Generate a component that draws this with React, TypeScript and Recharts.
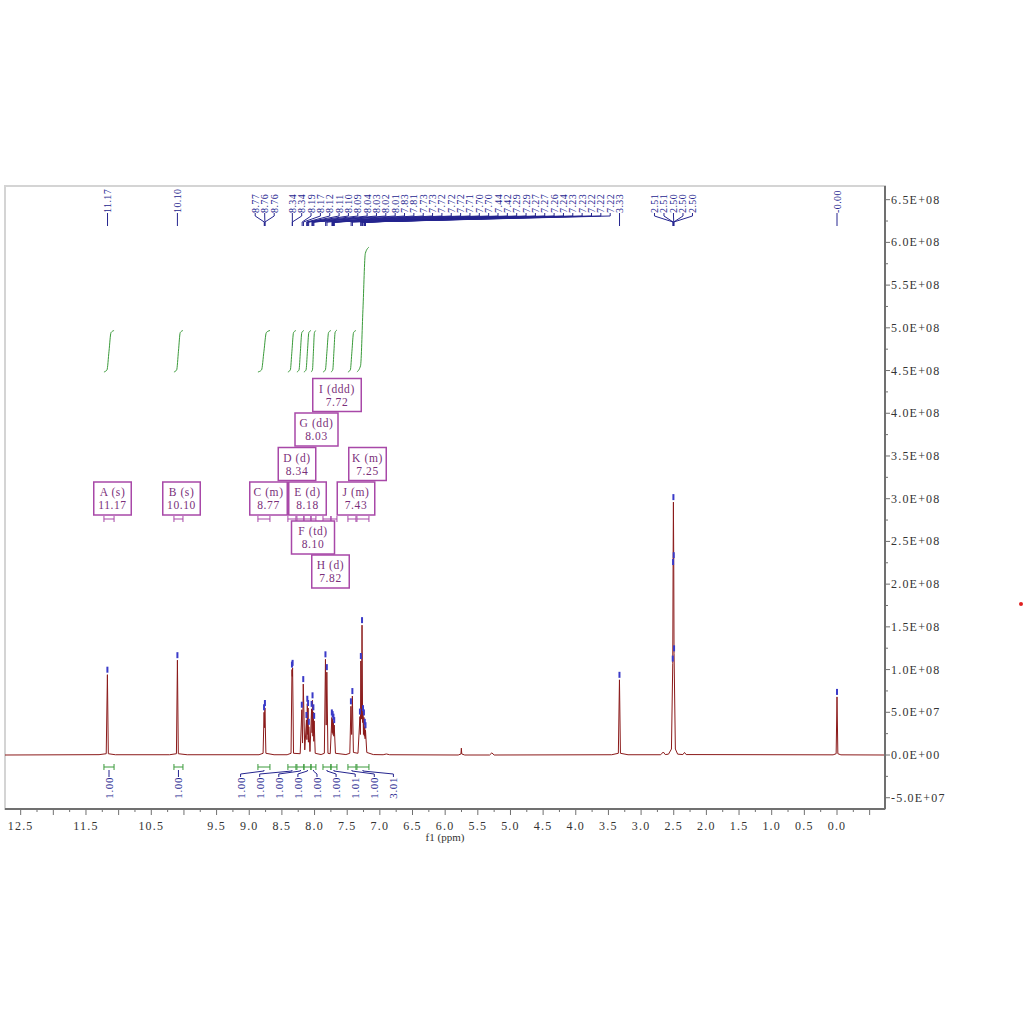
import React from 'react';
import { ComposedChart, Line, Scatter, XAxis, YAxis, ReferenceArea } from 'recharts';

// 1H trace, [ppm, intensity] (high ppm first)
const spectrum: [number, number][] = [
  [12.74, 0], [11.3, 0.4e6], [11.19, 1.5e6], [11.172, 9.4e7], [11.158, 1.5e6], [11.05, 0.3e6],
  [10.22, 0.3e6], [10.115, 1.5e6], [10.1, 1.11e8], [10.086, 1.5e6], [9.95, 0.3e6],
  [8.85, 0.3e6], [8.788, 2e6], [8.773, 5.0e7], [8.766, 3.2e7], [8.76, 5.5e7], [8.745, 2e6], [8.62, 0.3e6],
  [8.42, 0.3e6], [8.36, 2e6], [8.346, 1.0e8], [8.341, 9.2e7], [8.336, 1.02e8], [8.322, 2e6],
  [8.22, 1.5e6], [8.195, 5.3e7], [8.184, 1.4e7], [8.173, 8.3e7], [8.15, 6e6],
  [8.124, 4.1e7], [8.117, 1.8e7], [8.111, 6.0e7], [8.105, 2.4e7], [8.099, 5.5e7], [8.094, 1.5e7], [8.088, 3.3e7], [8.07, 4e6],
  [8.045, 5.4e7], [8.038, 2.6e7], [8.031, 6.4e7], [8.025, 2.2e7], [8.018, 5.0e7], [8.012, 1.6e7], [8.006, 4.0e7], [7.99, 2e6],
  [7.9, 0.5e6], [7.85, 2e6], [7.833, 1.12e8], [7.822, 3.5e7], [7.812, 9.7e7], [7.795, 2e6],
  [7.76, 1.5e6], [7.735, 4.4e7], [7.729, 2.6e7], [7.723, 4.2e7], [7.717, 2.4e7], [7.711, 3.9e7], [7.705, 2.2e7], [7.699, 3.5e7], [7.68, 2e6],
  [7.52, 0.5e6], [7.46, 2e6], [7.443, 5.7e7], [7.432, 2.4e7], [7.421, 6.9e7], [7.405, 3e6],
  [7.335, 2e6], [7.305, 4.5e7], [7.298, 2.4e7], [7.291, 1.1e8], [7.281, 4.2e7], [7.273, 1.52e8], [7.264, 3.8e7],
  [7.258, 4.9e7], [7.251, 2.4e7], [7.244, 4.4e7], [7.237, 2.2e7], [7.231, 3.3e7], [7.226, 1.9e7], [7.22, 2.9e7], [7.2, 3e6], [7.1, 0.5e6],
  [6.95, 0.3e6], [6.9, 1.2e6], [6.85, 0.3e6],
  [5.8, 0], [5.758, 1.2e6], [5.752, 8e6], [5.746, 1.2e6], [5.7, 0],
  [5.32, 0], [5.285, 2.5e6], [5.25, 0],
  [3.45, 0.3e6], [3.348, 2e6], [3.331, 8.8e7], [3.316, 2e6], [3.2, 0.3e6],
  [2.7, 0.3e6], [2.66, 3.5e6], [2.63, 0.5e6],
  [2.58, 1e6], [2.535, 7e6], [2.515, 1.07e8], [2.51, 2.2e8], [2.505, 2.96e8], [2.5, 2.28e8], [2.495, 1.19e8], [2.475, 7e6], [2.44, 1e6],
  [2.36, 0.5e6], [2.335, 3e6], [2.31, 0.5e6],
  [0.06, 0.2e6], [0.013, 1.5e6], [0.0, 6.8e7], [-0.013, 1.5e6], [-0.06, 0.2e6], [-0.735, 0],
];

// picked peak tops (blue marks)
const picks: [number, number][] = [
  [11.172, 9.4e7], [10.1, 1.11e8], [8.773, 5.0e7], [8.76, 5.5e7],
  [8.346, 1.0e8], [8.336, 1.02e8], [8.195, 5.3e7], [8.173, 8.3e7],
  [8.124, 4.1e7], [8.111, 6.0e7], [8.099, 5.5e7], [8.088, 3.3e7],
  [8.045, 5.4e7], [8.031, 6.4e7], [8.018, 5.0e7], [8.006, 4.0e7],
  [7.833, 1.12e8], [7.812, 9.7e7],
  [7.735, 4.4e7], [7.723, 4.2e7], [7.711, 3.9e7], [7.699, 3.5e7],
  [7.443, 5.7e7], [7.421, 6.9e7],
  [7.305, 4.5e7], [7.291, 1.1e8], [7.273, 1.52e8], [7.258, 4.9e7], [7.244, 4.4e7], [7.231, 3.3e7], [7.22, 2.9e7],
  [3.331, 8.8e7],
  [2.515, 1.07e8], [2.51, 2.2e8], [2.505, 2.96e8], [2.5, 2.28e8], [2.495, 1.19e8],
  [0, 6.8e7],
];

const clusterShifts = [
  '8.34', '8.34', '8.19', '8.17', '8.12', '8.11', '8.10', '8.09', '8.04', '8.03', '8.02', '8.01',
  '7.83', '7.81', '7.73', '7.73', '7.72', '7.72', '7.72', '7.71', '7.70', '7.70', '7.44', '7.42',
  '7.29', '7.29', '7.27', '7.27', '7.26', '7.24', '7.23', '7.23', '7.22', '7.22', '7.22', '3.33',
];
const shiftGroups: string[][] = [
  ['11.17'], ['10.10'], ['8.77', '8.76', '8.76'], clusterShifts, ['2.51', '2.51', '2.50', '2.50', '2.50'], ['-0.00'],
];

const multipletIds = ['A', 'B', 'C', 'D', 'E', 'F', 'G', 'H', 'I', 'J', 'K'];
const multipletTypes = ['s', 's', 'm', 'd', 'd', 'td', 'dd', 'd', 'ddd', 'm', 'm'];
const multipletShifts = [11.17, 10.1, 8.77, 8.34, 8.18, 8.1, 8.03, 7.82, 7.72, 7.43, 7.25];
const rangeFrom = [11.225, 10.153, 8.867, 8.408, 8.27, 8.163, 8.055, 7.871, 7.749, 7.489, 7.351];
const rangeTo = [11.07, 10.015, 8.683, 8.285, 8.163, 8.055, 7.979, 7.749, 7.657, 7.366, 7.167];
const integrals = [1.0, 1.0, 1.0, 1.0, 1.0, 1.0, 1.0, 1.0, 1.01, 1.0, 3.01];
const integralGroups = [[0], [1], [2, 3, 4, 5, 6, 7, 8, 9, 10]];

const xLabels = [12.5, 11.5, 10.5, 9.5, 9, 8.5, 8, 7.5, 7, 6.5, 6, 5.5, 5, 4.5, 4, 3.5, 3, 2.5, 2, 1.5, 1, 0.5, 0];

// ---- layout
const W = 1024;
const H = 1024;
const PLOT = { left: 5, top: 186, width: 880, height: 623 };
const YW = 100;
const XH = 40;
const X_MAX = 12.74;
const X_MIN = -0.735;
const Y_MAX = 6.66e8;
const Y_MIN = -6.32e7;
const PPM_PX = (X_MAX - X_MIN) / PLOT.width;
const yAt = (py: number) => Y_MAX - ((py - PLOT.top) / PLOT.height) * (Y_MAX - Y_MIN);
const xAt = (px: number) => X_MAX - ((px - PLOT.left) / PLOT.width) * (X_MAX - X_MIN);

// multiplet box centres (px) in A..K order
const boxLayout: [number, number][] = [
  [112.5, 498.5], [181.5, 498.5], [268.5, 498.5], [297, 464], [307.5, 498.5], [313, 537.5],
  [316.5, 429.5], [330.5, 571.5], [337, 395], [356, 498.5], [367.5, 464],
];

const FONT = '"Liberation Serif", "DejaVu Serif", serif';
const NAVY = '#25258f';
const GREEN = '#3a9a3a';
const MAGENTA = '#a848a8';
const RED = '#8b1a1a';
const AXIS = '#707070';

type P = { x: number; y: number | null; text?: string; l1?: string; l2?: string };

const addPath = (arr: P[], pts: [number, number][]) => {
  pts.forEach(([x, y]) => arr.push({ x, y }));
  arr.push({ x: pts[pts.length - 1][0], y: null });
};

// top shift labels + connectors
const topLabels: P[] = [];
const topLinks: P[] = [];
shiftGroups.forEach((g) => {
  const peaks = g.map((s) => parseFloat(s));
  const n = g.length;
  const mean = peaks.reduce((a, b) => a + b, 0) / n;
  g.forEach((s, i) => {
    let lp = peaks[i];
    if (n > 6) lp = peaks[0] + ((peaks[n - 1] - peaks[0]) * i) / (n - 1);
    else if (n > 1) lp = mean - (i - (n - 1) / 2) * 9.5 * PPM_PX;
    topLabels.push({ x: lp, y: yAt(213), text: s });
    addPath(topLinks, [[lp, yAt(213)], [lp, yAt(216)], [peaks[i], yAt(222)], [peaks[i], yAt(226)]]);
  });
});

// integral curves, brackets, labels
const BASE_PX = 372;
const UNIT_PX = 41.5;
const integralCurves: P[] = [];
const greenBrackets: P[] = [];
const magentaBrackets: P[] = [];
const integralLinks: P[] = [];
const integralLabels: P[] = [];
const bracket = (arr: P[], a: number, b: number, py: number) => {
  addPath(arr, [[a, yAt(py - 3)], [a, yAt(py + 3)]]);
  addPath(arr, [[a, yAt(py)], [b, yAt(py)]]);
  addPath(arr, [[b, yAt(py - 3)], [b, yAt(py + 3)]]);
};
multipletIds.forEach((_, i) => {
  const a = rangeFrom[i];
  const b = rangeTo[i];
  const d = a - b;
  const h = integrals[i] * UNIT_PX;
  addPath(integralCurves, [
    [a, yAt(BASE_PX)],
    [a - 0.3 * d, yAt(BASE_PX - 0.05 * h)],
    [a - 0.5 * d, yAt(BASE_PX - 0.5 * h)],
    [a - 0.7 * d, yAt(BASE_PX - 0.95 * h)],
    [b, yAt(BASE_PX - h)],
  ]);
  bracket(greenBrackets, a, b, 767);
  bracket(magentaBrackets, a, b, 519);
});
integralGroups.forEach((g) => {
  const centres = g.map((i) => (rangeFrom[i] + rangeTo[i]) / 2);
  const mean = centres.reduce((a, b) => a + b, 0) / g.length;
  g.forEach((idx, k) => {
    const lp = g.length > 1 ? mean - (k - (g.length - 1) / 2) * 19.1 * PPM_PX : centres[k];
    integralLabels.push({ x: lp, y: yAt(777), text: integrals[idx].toFixed(2) });
    addPath(integralLinks, [[centres[k], yAt(770)], [centres[k], yAt(771)], [lp, yAt(774)], [lp, yAt(777)]]);
  });
});

const boxes: P[] = multipletIds.map((id, i) => ({
  x: xAt(boxLayout[i][0]),
  y: yAt(boxLayout[i][1]),
  l1: `${id} (${multipletTypes[i]})`,
  l2: multipletShifts[i].toFixed(2),
}));

const traceData = spectrum.map(([x, y]) => ({ x, y }));
const pickData = picks.map(([x, y]) => ({ x, y }));

const xTicks: number[] = [];
for (let v = 12.5; v >= -0.5 - 1e-9; v -= 0.25) xTicks.push(Math.round(v * 100) / 100);
const yTicks: number[] = [];
for (let v = -5e7; v <= 6.5e8 + 1; v += 2.5e7) yTicks.push(v);

const fmtE = (v: number) => {
  if (v === 0) return '0.0E+00';
  const e = Math.floor(Math.log10(Math.abs(v)));
  const m = v / Math.pow(10, e);
  return `${m.toFixed(1)}E+${String(e).padStart(2, '0')}`;
};

const XTick = (props: any) => {
  const { x, y, payload } = props;
  const v = payload.value as number;
  const major = Math.abs(v * 2 - Math.round(v * 2)) < 1e-6;
  const show = xLabels.some((l) => Math.abs(l - v) < 1e-6);
  return (
    <g>
      <line x1={x} x2={x} y1={y} y2={y + (major ? 6 : 3)} stroke={AXIS} />
      {show && (
        <text x={x} y={y + 21} textAnchor="middle" fontSize={12} fontFamily={FONT} fill="#333" letterSpacing={1.2}>
          {v.toFixed(1)}
        </text>
      )}
    </g>
  );
};

const YTick = (props: any) => {
  const { x, y, payload } = props;
  const v = payload.value as number;
  const major = Math.round(v / 2.5e7) % 2 === 0;
  return (
    <g>
      <line x1={x} x2={x + (major ? 5 : 3)} y1={y} y2={y} stroke={AXIS} />
      {major && (
        <text x={x + 6} y={y + 4} fontSize={12} fontFamily={FONT} fill="#333" letterSpacing={1.2}>
          {fmtE(v)}
        </text>
      )}
    </g>
  );
};

const TopLabel = (p: any) => (
  <text x={p.cx} y={p.cy} dy={3.5} transform={`rotate(-90 ${p.cx} ${p.cy})`} fontSize={10} fontFamily={FONT} fill={NAVY} letterSpacing={0.4}>
    {p.payload.text}
  </text>
);

const IntLabel = (p: any) => (
  <text x={p.cx} y={p.cy} dy={4} textAnchor="end" transform={`rotate(-90 ${p.cx} ${p.cy})`} fontSize={11} fontFamily={FONT} fill={NAVY} letterSpacing={0.6}>
    {p.payload.text}
  </text>
);

const PickMark = (p: any) => <rect x={p.cx - 1} y={p.cy - 8} width={2} height={6} fill="#3a3ac8" />;

const Box = (p: any) => {
  const { l1, l2 } = p.payload;
  const w = Math.max(l1.length, l2.length) * 5.5 + 10;
  const top = p.cy - 16.5;
  return (
    <g>
      <rect x={p.cx - w / 2} y={top} width={w} height={33} fill="#fff" stroke={MAGENTA} strokeWidth={1.5} />
      <text x={p.cx} y={top + 14} textAnchor="middle" fontSize={11.5} fontFamily={FONT} fill="#7a2f7a" letterSpacing={0.6}>
        {l1}
      </text>
      <text x={p.cx} y={top + 27} textAnchor="middle" fontSize={11.5} fontFamily={FONT} fill="#7a2f7a" letterSpacing={0.6}>
        {l2}
      </text>
    </g>
  );
};

export default function App() {
  return (
    <div style={{ position: 'absolute', left: 0, top: 0, width: W, height: H, background: '#fff' }}>
      <ComposedChart
        width={W}
        height={H}
        margin={{ top: PLOT.top, left: PLOT.left, right: W - PLOT.left - PLOT.width - YW, bottom: H - PLOT.top - PLOT.height - XH }}
      >
        <XAxis
          dataKey="x"
          type="number"
          domain={[X_MIN, X_MAX]}
          reversed
          allowDataOverflow
          ticks={xTicks}
          interval={0}
          tick={<XTick />}
          tickLine={false}
          tickSize={0}
          tickMargin={0}
          height={XH}
          axisLine={{ stroke: AXIS, strokeWidth: 2 }}
          label={{ value: 'f1 (ppm)', position: 'insideBottom', offset: 8, fontSize: 11, fontFamily: FONT, fill: '#333' }}
        />
        <YAxis
          type="number"
          orientation="right"
          domain={[Y_MIN, Y_MAX]}
          allowDataOverflow
          ticks={yTicks}
          interval={0}
          tick={<YTick />}
          tickLine={false}
          tickSize={0}
          tickMargin={0}
          width={YW}
          axisLine={{ stroke: AXIS, strokeWidth: 2 }}
        />
        <ReferenceArea x1={X_MAX} x2={X_MIN} y1={Y_MIN} y2={Y_MAX} fill="none" stroke="#d4d4d4" strokeWidth={2} />
        <Line data={traceData} dataKey="y" type="linear" stroke={RED} strokeWidth={1} dot={false} isAnimationActive={false} />
        <Scatter data={pickData} dataKey="y" shape={PickMark} isAnimationActive={false} />
        <Line data={integralCurves} dataKey="y" type="monotone" stroke={GREEN} strokeWidth={1} dot={false} isAnimationActive={false} />
        <Line data={topLinks} dataKey="y" type="linear" stroke={NAVY} strokeWidth={1} dot={false} isAnimationActive={false} />
        <Scatter data={topLabels} dataKey="y" shape={TopLabel} isAnimationActive={false} />
        <Line data={magentaBrackets} dataKey="y" type="linear" stroke={MAGENTA} strokeWidth={1} dot={false} isAnimationActive={false} />
        <Line data={greenBrackets} dataKey="y" type="linear" stroke={GREEN} strokeWidth={1} dot={false} isAnimationActive={false} />
        <Line data={integralLinks} dataKey="y" type="linear" stroke={NAVY} strokeWidth={1} dot={false} isAnimationActive={false} />
        <Scatter data={integralLabels} dataKey="y" shape={IntLabel} isAnimationActive={false} />
        <Scatter data={boxes} dataKey="y" shape={Box} isAnimationActive={false} />
      </ComposedChart>
      <div style={{ position: 'absolute', left: 1019, top: 602, width: 4, height: 4, borderRadius: 2, background: '#e02020' }} />
    </div>
  );
}
